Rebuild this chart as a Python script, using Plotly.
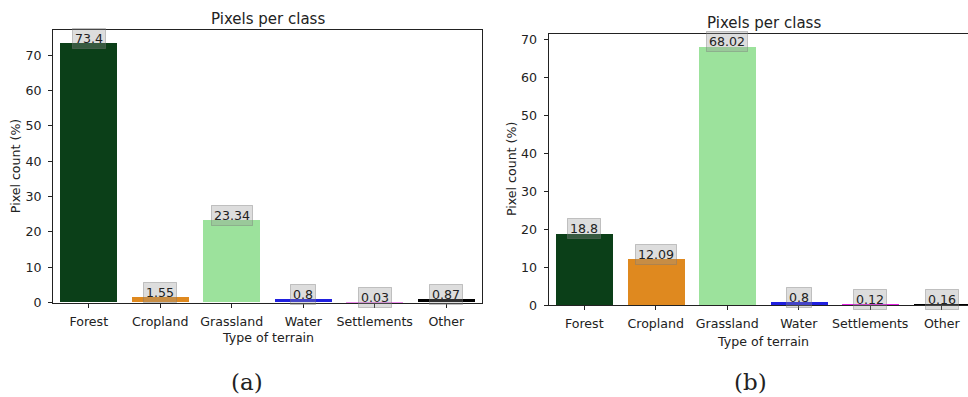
import plotly.graph_objects as go

W, H = 968, 397

categories = ["Forest", "Cropland", "Grassland", "Water", "Settlements", "Other"]
values_a = [73.4, 1.55, 23.34, 0.8, 0.03, 0.87]
values_b = [18.8, 12.09, 68.02, 0.8, 0.12, 0.16]
colors = ["#0b3f18", "#df891f", "#9ce29c", "#2020df", "#df20df", "#000000"]
y_ticks = [0, 10, 20, 30, 40, 50, 60, 70]
title_text = "Pixels per class"
x_title = "Type of terrain"
y_title = "Pixel count (%)"
captions = ["(a)", "(b)"]

FONT = "DejaVu Sans"
TXT = "#222222"
fs_tick = 12.6
fs_title = 15

def px(x):
    return x / W

def py(y):
    return 1 - y / H

xs = list(range(len(categories)))

fig = go.Figure()
fig.add_trace(go.Bar(x=xs, y=values_a, width=0.8, marker=dict(color=colors, line=dict(width=0)),
                     xaxis="x", yaxis="y", showlegend=False, hoverinfo="skip"))
fig.add_trace(go.Bar(x=xs, y=values_b, width=0.8, marker=dict(color=colors, line=dict(width=0)),
                     xaxis="x2", yaxis="y2", showlegend=False, hoverinfo="skip"))

axis_common = dict(showgrid=False, zeroline=False, showline=True, linecolor="#222222", linewidth=1,
                   ticks="outside", ticklen=4, tickcolor="#222222", tickwidth=1,
                   tickfont=dict(family=FONT, size=fs_tick, color=TXT))

# left panel geometry
L_x0, L_x1, L_y0, L_y1 = 53, 482, 29, 307.5
# right panel geometry
R_x0, R_y0, R_y1 = 548.5, 32.7, 310.3
unit = (L_x1 - L_x0) / 6.0
r_xmax = -0.5 + (W - R_x0) / unit

fig.update_layout(
    width=W, height=H, margin=dict(l=0, r=0, t=0, b=0),
    paper_bgcolor="white", plot_bgcolor="white",
    bargap=0,
    xaxis=dict(axis_common, domain=[px(L_x0), px(L_x1)], range=[-0.5, 5.5], mirror=True,
               tickmode="array", tickvals=xs, ticktext=categories, anchor="y", ticklabelstandoff=3),
    yaxis=dict(axis_common, domain=[py(L_y1), py(L_y0)], range=[0, max(values_a) * 1.05], mirror=True,
               tickmode="array", tickvals=y_ticks, anchor="x", ticklabelstandoff=4),
    xaxis2=dict(axis_common, domain=[px(R_x0), 1], range=[-0.5, r_xmax], mirror=True,
                tickmode="array", tickvals=xs, ticktext=categories, anchor="y2", ticklabelstandoff=3),
    yaxis2=dict(axis_common, domain=[py(R_y1), py(R_y0)], range=[0, max(values_b) * 1.05], mirror=False,
                tickmode="array", tickvals=y_ticks, anchor="x2", ticklabelstandoff=4),
)

ann = []
for vals, xr, yr in [(values_a, "x", "y"), (values_b, "x2", "y2")]:
    for i, v in enumerate(vals):
        ann.append(dict(x=i, y=v, xref=xr, yref=yr, text=str(v), showarrow=False,
                        yanchor="middle", yshift=5,
                        font=dict(family=FONT, size=fs_tick, color=TXT),
                        bgcolor="rgba(150,150,150,0.32)", bordercolor="rgba(120,120,120,0.4)",
                        borderwidth=1, borderpad=2))

def paper_text(x, y, text, size, family=FONT, angle=0):
    return dict(x=px(x), y=py(y), xref="paper", yref="paper", text=text, showarrow=False,
                xanchor="center", yanchor="middle", textangle=angle,
                font=dict(family=family, size=size, color=TXT))

ann += [
    paper_text(267.5, 17, title_text, fs_title),
    paper_text(763.5, 21, title_text, fs_title),
    paper_text(267.5, 343.5, x_title, fs_tick),
    paper_text(763, 347, x_title, fs_tick),
    paper_text(15, 168, y_title, fs_tick, angle=-90),
    paper_text(511.5, 171.5, y_title, fs_tick, angle=-90),
    paper_text(247, 389, captions[0], 23, family="DejaVu Serif"),
    paper_text(750, 389, captions[1], 23, family="DejaVu Serif"),
]
fig.update_layout(annotations=ann)

fig.write_html("out.html", config={"displayModeBar": False},
               post_script="document.body.style.margin='0';document.body.style.overflow='hidden';")
